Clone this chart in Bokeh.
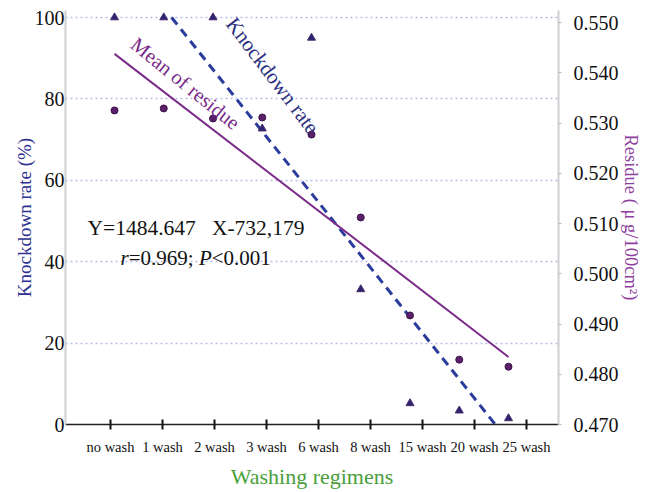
import numpy as np
from bokeh.plotting import figure
from bokeh.models import Range1d, LinearAxis, FixedTicker, NumeralTickFormatter, Label
from bokeh.embed import file_html
from bokeh.resources import INLINE

regimens = ["no wash", "1 wash", "2 wash", "3 wash", "6 wash", "8 wash", "15 wash", "20 wash", "25 wash"]
knockdown = [100, 100, 100, 72.7, 95.0, 33.2, 5.2, 3.4, 1.5]
residue = [0.5325, 0.5329, 0.5309, 0.5311, 0.5277, 0.5112, 0.4917, 0.4829, 0.4815]
left_ticks = [0, 20, 40, 60, 80, 100]
right_ticks = [0.470, 0.480, 0.490, 0.500, 0.510, 0.520, 0.530, 0.540, 0.550]
equation = "Y=1484.647\u00a0\u00a0\u00a0X-732,179"
stats = ["r", "=0.969; ", "P", "<0.001"]

SERIF = "Liberation Serif"
idx = np.arange(len(regimens))

p = figure(width=648, height=492, output_backend="svg", toolbar_location=None,
           x_range=Range1d(-0.995, 9.015), y_range=Range1d(0, 101.72),
           x_axis_location=None,
           min_border_left=65, min_border_right=90, min_border_top=10, min_border_bottom=68)
p.outline_line_color = None
p.background_fill_color = "white"
p.border_fill_color = "white"
p.extra_y_ranges = {"res": Range1d(0.470, 0.55239)}
p.extra_x_ranges = {"lab": Range1d(-0.865, 8.615)}

p.xgrid.visible = False
p.ygrid.ticker = FixedTicker(ticks=left_ticks)
p.ygrid.grid_line_color = "#b8bce6"
p.ygrid.grid_line_dash = "2 3"
p.ygrid.grid_line_width = 1.5

# left axis
ya = p.yaxis[0]
ya.ticker = FixedTicker(ticks=left_ticks)
ya.axis_label = "Knockdown rate (%)"
ya.axis_label_text_font = SERIF
ya.axis_label_text_font_style = "normal"
ya.axis_label_text_font_size = "19px"
ya.axis_label_text_color = "#2e3192"
ya.axis_label_standoff = -3
ya.major_label_text_font = SERIF
ya.major_label_text_font_size = "20px"
ya.major_label_text_color = "#111111"
ya.major_label_standoff = 1
ya.major_tick_out = 0
ya.major_tick_in = 0
ya.minor_tick_out = 0
ya.minor_tick_in = 0
ya.axis_line_color = "#cfcfcf"
ya.axis_line_width = 2

# right axis
ra = LinearAxis(y_range_name="res", ticker=FixedTicker(ticks=right_ticks),
                formatter=NumeralTickFormatter(format="0.000"))
ra.axis_label = "Residue ( \u03bc g/100cm\u00b2)"
ra.axis_label_text_font = SERIF
ra.axis_label_text_font_style = "normal"
ra.axis_label_text_font_size = "18.5px"
ra.axis_label_text_color = "#8e3fa0"
ra.axis_label_standoff = -1
ra.major_label_text_font = SERIF
ra.major_label_text_font_size = "20px"
ra.major_label_text_color = "#111111"
ra.major_label_standoff = 12
ra.major_tick_out = 3
ra.major_tick_in = 0
ra.major_tick_line_color = "#bbbbbb"
ra.minor_tick_out = 0
ra.minor_tick_in = 0
ra.axis_line_color = "#cfcfcf"
ra.axis_line_width = 2
p.add_layout(ra, "right")

# bottom axis
xa = LinearAxis(x_range_name="lab", ticker=FixedTicker(ticks=list(idx)))
xa.major_label_overrides = {int(i): r for i, r in zip(idx, regimens)}
xa.axis_label = "Washing regimens"
xa.axis_label_text_font = SERIF
xa.axis_label_text_font_style = "normal"
xa.axis_label_text_font_size = "22px"
xa.axis_label_text_color = "#4a9e3c"
xa.axis_label_standoff = 6
xa.major_label_text_font = SERIF
xa.major_label_text_font_size = "14.5px"
xa.major_label_text_color = "#111111"
xa.major_label_standoff = 9
xa.major_tick_in = 5
xa.major_tick_out = 5
xa.major_tick_line_width = 2
xa.major_tick_line_color = "#111111"
xa.minor_tick_out = 0
xa.minor_tick_in = 0
xa.axis_line_color = "#222222"
xa.axis_line_width = 1.5
p.add_layout(xa, "below")

# regression lines computed from the data
mk, bk = np.polyfit(idx, knockdown, 1)
x_top = (100 - bk) / mk
x_bot = (0 - bk) / mk
p.line([x_top, x_bot], [mk * x_top + bk, mk * x_bot + bk],
       line_color="#2a3c9c", line_width=3, line_dash="9 6")

mr, br = np.polyfit(idx, residue, 1)
p.line([idx[0], idx[-1]], [mr * idx[0] + br, mr * idx[-1] + br],
       line_color="#7a2c88", line_width=2, y_range_name="res")

# markers
p.scatter(idx, knockdown, marker="triangle", size=8,
          fill_color="#2a2472", line_color="#4a2a6a")
p.scatter(idx, residue, marker="circle", size=7, y_range_name="res",
          fill_color="#5c1f6b", line_color="#3a1448")

# annotations
p.add_layout(Label(x=3.21, y=85.7, text="Knockdown rate", angle=-53, angle_units="deg",
                   text_align="center", text_baseline="middle", text_font=SERIF,
                   text_font_size="21px", text_color="#2b2f7e"))
p.add_layout(Label(x=1.44, y=83.8, text="Mean of residue", angle=-39, angle_units="deg",
                   text_align="center", text_baseline="middle", text_font=SERIF,
                   text_font_size="20.5px", text_color="#7a2c88"))
p.add_layout(Label(x=-0.548, y=48.4, text=equation, text_align="left",
                   text_baseline="middle", text_font=SERIF, text_font_size="21.5px",
                   text_color="#111111"))
offs = [0, 8.2, 78.4, 91.2]
styles = ["italic", "normal", "italic", "normal"]
for t, o, s in zip(stats, offs, styles):
    p.add_layout(Label(x=0.122, y=40.8, x_offset=o, text=t, text_align="left",
                       text_baseline="middle", text_font=SERIF, text_font_size="21px",
                       text_font_style=s, text_color="#111111"))

open("out.html", "w").write(file_html(p, INLINE))
